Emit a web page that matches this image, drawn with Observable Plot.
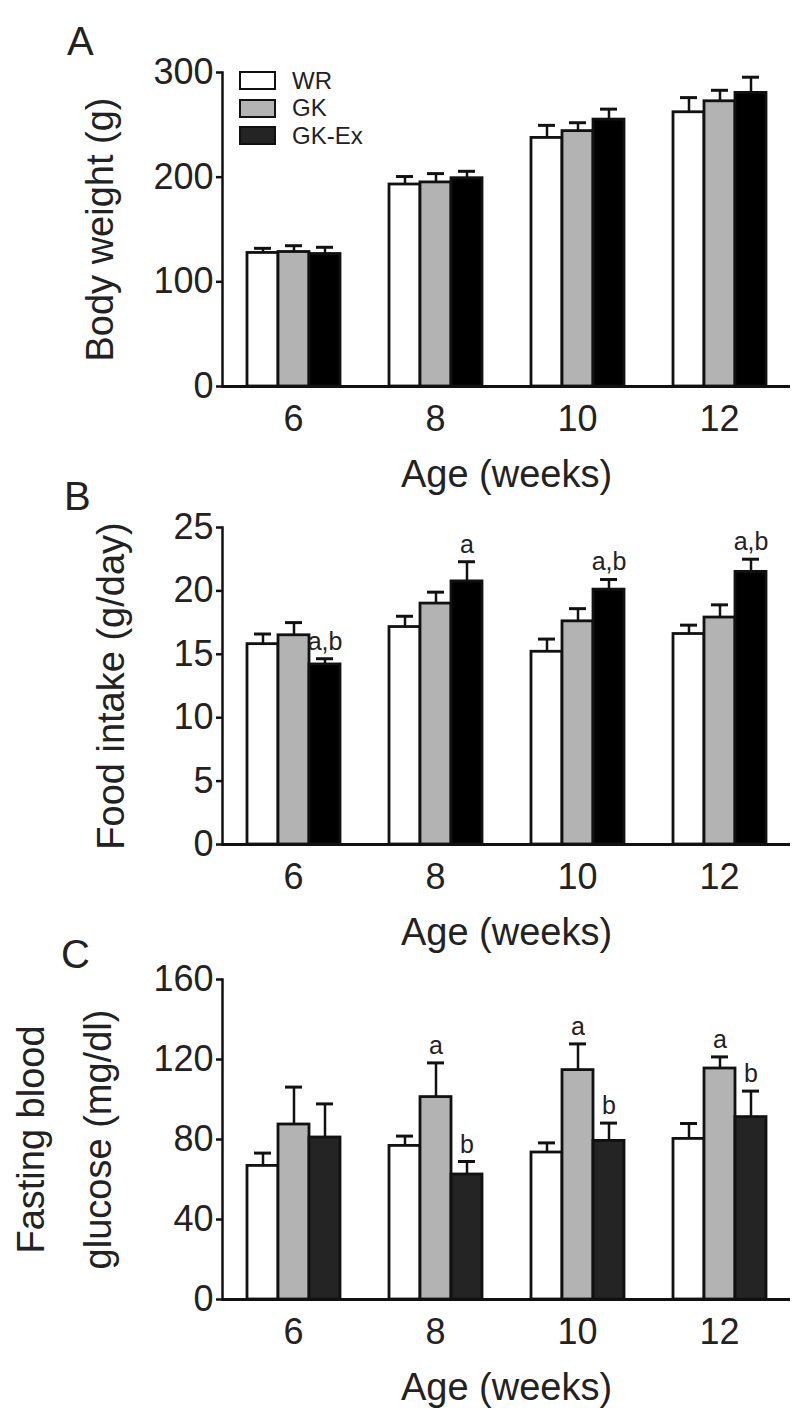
<!DOCTYPE html>
<html>
<head>
<meta charset="utf-8">
<script src="https://cdn.jsdelivr.net/npm/d3@7"></script>
<script src="https://cdn.jsdelivr.net/npm/@observablehq/plot@0.6"></script>
<style>
  body { margin: 0; background: #fff; font-family: "Liberation Sans", Arial, Helvetica, sans-serif; color: #222; }
  #root { position: relative; width: 800px; height: 1425px; }
  .panel { position: relative; width: 800px; height: 475px; }
  .panel svg { display: block; overflow: visible; }
  .letter { position: absolute; font-size: 40px; line-height: 40px; color: #222; }
  .legend { position: absolute; left: 239px; top: 67px; }
  .legend .item { display: flex; align-items: center; height: 27.5px; }
  .legend .sw { width: 33px; height: 15px; border: 2.5px solid #111; margin-right: 16px; }
  .legend .lab { font-size: 24px; color: #222; }
</style>
</head>
<body>
<div id="root"></div>
<script>
// ---------- data ----------
const ages = [6, 8, 10, 12];
const groups = ["WR", "GK", "GK-Ex"];
const fillsAB = ["#ffffff", "#b3b3b3", "#000000"];
const fillsC = ["#ffffff", "#b3b3b3", "#242424"];
const legendFills = ["#ffffff", "#b3b3b3", "#242424"];

// Panel A: body weight (g), mean and SEM
const weightWR = [127.6, 193, 237.5, 262];
const weightWRErr = [4.4, 7.6, 12, 14];
const weightGK = [128.5, 195, 244, 272.5];
const weightGKErr = [6, 8.4, 8, 10.5];
const weightEx = [126.6, 199, 255, 280.5];
const weightExErr = [6.4, 6.6, 10, 15];
const weightTicks = [0, 100, 200, 300];

// Panel B: food intake (g/day)
const foodWR = [15.8, 17.15, 15.2, 16.6];
const foodWRErr = [0.8, 0.85, 1.0, 0.7];
const foodGK = [16.5, 19.0, 17.6, 17.9];
const foodGKErr = [1.0, 0.9, 1.0, 1.0];
const foodEx = [14.2, 20.75, 20.1, 21.5];
const foodExErr = [0.45, 1.55, 0.8, 1.0];
const foodExMarks = ["a,b", "a", "a,b", "a,b"];
const foodTicks = [0, 5, 10, 15, 20, 25];

// Panel C: fasting blood glucose (mg/dl)
const glucWR = [66.8, 76.8, 73.5, 80.3];
const glucWRErr = [6.4, 4.9, 4.8, 7.7];
const glucGK = [87.5, 101.2, 114.7, 115.5];
const glucGKErr = [18.7, 17.1, 13.1, 5.8];
const glucEx = [81, 62.5, 79.3, 91.2];
const glucExErr = [16.8, 6.5, 8.9, 13];
const glucGKMarks = ["", "a", "a", "a"];
const glucExMarks = ["", "b", "b", "b"];
const glucTicks = [0, 40, 80, 120, 160];

const xLabel = "Age (weeks)";
const noMarks = ["", "", "", ""];

// ---------- build ----------
function rowsOf(means, errs, marks) {
  return ages.flatMap((age, i) => groups.map((g, j) => ({
    age, group: g, mean: means[j][i], err: errs[j][i], mark: marks[j][i]
  })));
}

const FONT = "'Liberation Sans', Arial, Helvetica, sans-serif";
const INK = "#111";

function panel({rows, fills, yTicks, yLabel, labelDx, lineHeight, marginTop, marginBottom}) {
  return Plot.plot({
    width: 800,
    height: 475,
    marginLeft: 222,
    marginRight: 10,
    marginTop,
    marginBottom,
    style: {fontFamily: FONT, color: "#222", background: "transparent", overflow: "visible"},
    fx: {domain: ages, padding: 0, label: null},
    x: {domain: groups, paddingInner: 0, paddingOuter: 0.72, axis: null},
    y: {domain: [yTicks[0], yTicks[yTicks.length - 1]], axis: null},
    color: {domain: groups, range: fills},
    marks: [
      Plot.ruleX(rows, {fx: "age", x: "group", y1: "mean", y2: d => d.mean + d.err, stroke: INK, strokeWidth: 2.5}),
      Plot.tickY(rows, {fx: "age", x: "group", y: d => d.mean + d.err, insetLeft: 7, insetRight: 7, stroke: INK, strokeWidth: 3}),
      Plot.barY(rows, {fx: "age", x: "group", y: "mean", fill: "group", stroke: INK, strokeWidth: 2.8}),
      Plot.text(rows.filter(d => d.mark), {fx: "age", x: "group", y: d => d.mean + d.err, text: "mark", dy: -9, lineAnchor: "bottom", fontSize: 25, fill: "#222"}),
      Plot.ruleY([yTicks[0]], {stroke: INK, strokeWidth: 3}),
      Plot.frame({anchor: "left", facetAnchor: "left", stroke: INK, strokeWidth: 2.5}),
      Plot.axisY({ticks: yTicks, tickSize: 6, tickPadding: 3, fontSize: 36, label: null, stroke: INK, strokeWidth: 2.5, tickFormat: d => String(d)}),
      Plot.axisFx({anchor: "bottom", tickSize: 0, tickPadding: 19, fontSize: 36, label: null}),
      Plot.text([yLabel], {frameAnchor: "left", facetAnchor: "left", rotate: -90, dx: labelDx, textAnchor: "middle", lineAnchor: "bottom", lineHeight, fontSize: 38, fill: "#222"}),
      Plot.text([xLabel], {facet: "super", frameAnchor: "bottom", dy: 100, textAnchor: "middle", lineAnchor: "bottom", fontSize: 38, fill: "#222"})
    ]
  });
}

const root = document.getElementById("root");

function addPanel(svg, letter, letterLeft, letterTop) {
  const div = document.createElement("div");
  div.className = "panel";
  div.appendChild(svg);
  const l = document.createElement("div");
  l.className = "letter";
  l.textContent = letter;
  l.style.left = letterLeft + "px";
  l.style.top = letterTop + "px";
  div.appendChild(l);
  root.appendChild(div);
  return div;
}

const pA = addPanel(panel({
  rows: rowsOf([weightWR, weightGK, weightEx], [weightWRErr, weightGKErr, weightExErr], [noMarks, noMarks, noMarks]),
  fills: fillsAB, yTicks: weightTicks, yLabel: "Body weight (g)", labelDx: -110, lineHeight: 1,
  marginTop: 72, marginBottom: 89
}), "A", 67, 21);

// legend
const legend = document.createElement("div");
legend.className = "legend";
groups.forEach((g, j) => {
  const item = document.createElement("div");
  item.className = "item";
  const sw = document.createElement("div");
  sw.className = "sw";
  sw.style.background = legendFills[j];
  const lab = document.createElement("span");
  lab.className = "lab";
  lab.textContent = g;
  item.appendChild(sw);
  item.appendChild(lab);
  legend.appendChild(item);
});
pA.appendChild(legend);

addPanel(panel({
  rows: rowsOf([foodWR, foodGK, foodEx], [foodWRErr, foodGKErr, foodExErr], [noMarks, noMarks, foodExMarks]),
  fills: fillsAB, yTicks: foodTicks, yLabel: "Food intake (g/day)", labelDx: -99, lineHeight: 1,
  marginTop: 52, marginBottom: 106
}), "B", 64, 1);

addPanel(panel({
  rows: rowsOf([glucWR, glucGK, glucEx], [glucWRErr, glucGKErr, glucExErr], [noMarks, glucGKMarks, glucExMarks]),
  fills: fillsC, yTicks: glucTicks, yLabel: "Fasting blood\nglucose (mg/dl)", labelDx: -112, lineHeight: 1.76,
  marginTop: 29, marginBottom: 126
}), "C", 61, -16);
</script>
</body>
</html>
